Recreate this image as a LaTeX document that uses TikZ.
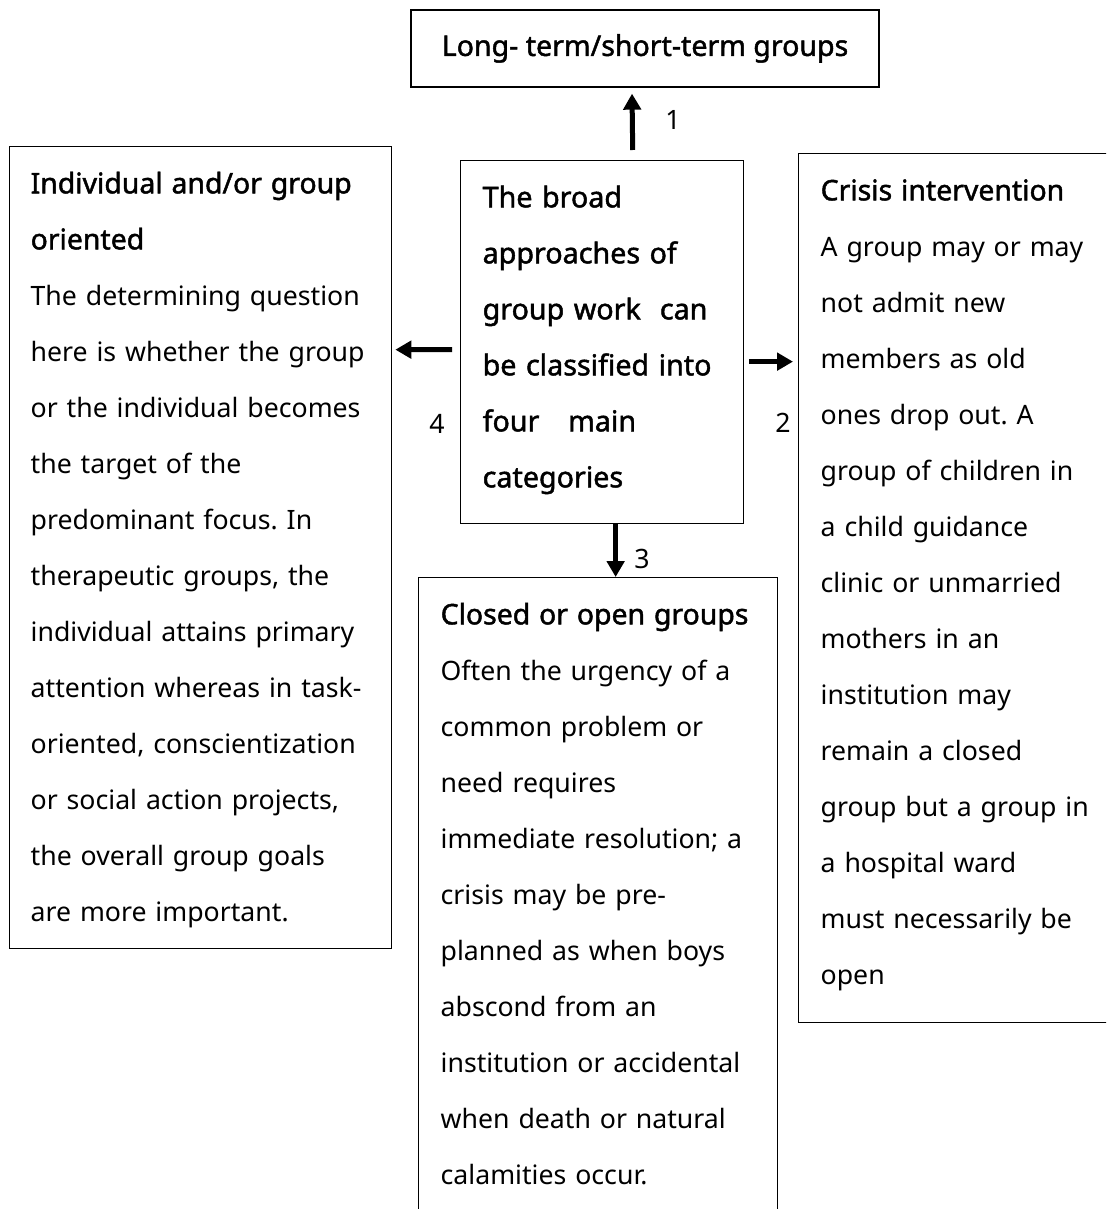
\documentclass[tikz,border=0pt]{standalone}
\usepackage{fontspec}
\setmainfont{Noto Sans}[BoldFont={Noto Sans},BoldFeatures={FakeBold=1.6}]
\usetikzlibrary{arrows.meta}
\frenchspacing

\begin{document}
\begin{tikzpicture}[x=0.75pt,y=-0.75pt]
    \useasboundingbox (0,0) rectangle (1106,1209);
    \clip (0,0) rectangle (1106,1209);
    \node[draw,line width=1pt,minimum width=351pt,minimum height=57.75pt,font=\bfseries\fontsize{21.4}{24}\selectfont] (top) at (645,48.5) {Long- term/short-term groups};
    \begin{scope}[every node/.style={draw,line width=1pt,anchor=north west,align=left,inner xsep=16.5pt,inner ysep=0pt,text height=35pt,font=\fontsize{20}{42}\selectfont}]
    \node[text width=179.25pt,text depth=237.25pt,font=\bfseries\fontsize{21.5}{42}\selectfont] (center) at (460,160) {The broad\\ approaches of\\ group work\ \ can\\ be classified into\\ four\ \ \ main\\ categories};
    \node[text width=255pt,text depth=566.5pt,inner xsep=15.75pt] (indiv) at (9,146) {{\bfseries\fontsize{21.3}{42}\selectfont Individual and/or group}\\ {\bfseries\fontsize{21.3}{42}\selectfont oriented}\\ The determining question\\ here is whether the group\\ or the individual becomes\\ the target of the\\ predominant focus. In\\ therapeutic groups, the\\ individual attains primary\\ attention whereas in task-\\ oriented, conscientization\\ or social action projects,\\ the overall group goals\\ are more important.};
    \node[text width=240pt,text depth=616.75pt] (crisis) at (798,153) {{\bfseries\fontsize{21.3}{42}\selectfont Crisis intervention}\\ A group may or may\\ not admit new\\ members as old\\ ones drop out. A\\ group of children in\\ a child guidance\\ clinic or unmarried\\ mothers in an\\ institution may\\ remain a closed\\ group but a group in\\ a hospital ward\\ must necessarily be\\ open};
    \node[text width=236.25pt,text depth=465pt] (closed) at (418,577) {{\bfseries\fontsize{21.3}{42}\selectfont Closed or open groups}\\ Often the urgency of a\\ common problem or\\ need requires\\ immediate resolution; a\\ crisis may be pre-\\ planned as when boys\\ abscond from an\\ institution or accidental\\ when death or natural\\ calamities occur.};
    \end{scope}
    \begin{scope}[every node/.style={font=\fontsize{20}{22}\selectfont}]
    \node (n1) at (673,120) {1};
    \node (n2) at (783,423) {2};
    \node (n3) at (642,559) {3};
    \node (n4) at (437,424) {4};
    \end{scope}
    \begin{scope}[every edge/.style={draw=black,line width=3.75pt,-{Triangle[length=12pt,width=13pt]}}]
    \path ([xshift=22.9pt,yshift=7.5pt]center.north) edge ([xshift=-9.75pt,yshift=-4.5pt]top.south);
    \path ([xshift=3.75pt,yshift=-14.6pt]center.east) edge ([xshift=-3.75pt,yshift=169.9pt]crisis.west);
    \path ([xshift=10.1pt]center.south) edge ([xshift=13.1pt]closed.north);
    \path ([xshift=-6pt,yshift=-5.6pt]center.west) edge ([xshift=2.25pt,yshift=148.5pt]indiv.east);
    \end{scope}
\end{tikzpicture}
\end{document}
